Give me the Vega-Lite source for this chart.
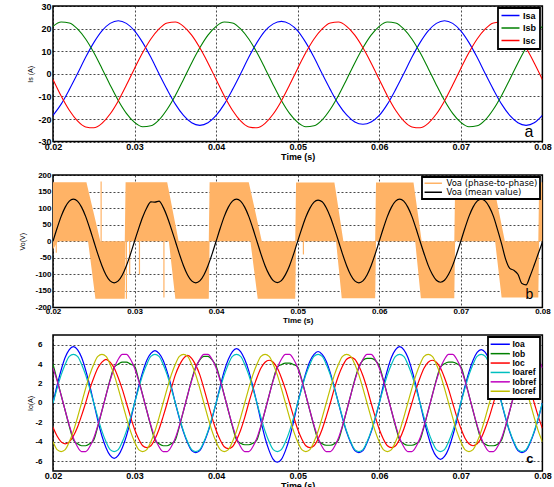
{
  "$schema": "https://vega.github.io/schema/vega-lite/v6.json",
  "background": "white",
  "padding": {"left": 18, "top": 1, "right": 0, "bottom": 0},
  "spacing": 8,
  "config": {
    "font": "Liberation Sans",
    "view": {"stroke": "black", "strokeWidth": 1.5},
    "locale": {"number": {"decimal": ".", "thousands": ",", "grouping": [3], "currency": ["$", ""], "minus": "-"}},
    "axis": {"grid": true, "gridColor": "black", "gridDash": [2, 2], "gridWidth": 0.8, "gridOpacity": 0.9, "domain": false, "ticks": false, "tickCount": 50, "labelFont": "Liberation Sans", "labelFontSize": 9, "labelFontWeight": "bold", "labelColor": "black", "labelFlush": false, "labelOverlap": false, "titleFont": "Liberation Sans", "titleColor": "black"},
    "axisX": {"labelPadding": 1, "titlePadding": 0.5, "titleFontSize": 9, "titleFontWeight": "bold"},
    "axisY": {"labelPadding": 2, "titleFontSize": 7, "titleFontWeight": "normal"},
    "legend": {"orient": "top-right", "offset": 2, "strokeColor": "black", "strokeWidth": 1.8, "fillColor": "white", "padding": 3, "labelFont": "Liberation Sans", "labelColor": "black"}
  },
  "resolve": {"scale": {"x": "independent", "y": "independent", "color": "independent"}, "legend": {"color": "independent"}},
  "vconcat": [
    {
      "width": 489.4,
      "height": 135.6,
      "layer": [
        {
          "data": {"values": [
            {"t":0.020,"Isa":-18.4,"Isb":21.0,"Isc":-2.5},
            {"t":0.021,"Isa":-13.4,"Isb":22.9,"Isc":-9.8},
            {"t":0.022,"Isa":-7.0,"Isb":22.5,"Isc":-16.1},
            {"t":0.023,"Isa":0,"Isb":19.9,"Isc":-20.8},
            {"t":0.024,"Isa":7.3,"Isb":15.4,"Isc":-23.5},
            {"t":0.025,"Isa":13.8,"Isb":9.4,"Isc":-23.9},
            {"t":0.026,"Isa":19.0,"Isb":2.4,"Isc":-21.9},
            {"t":0.027,"Isa":22.3,"Isb":-4.9,"Isc":-17.8},
            {"t":0.028,"Isa":23.5,"Isb":-11.8,"Isc":-12.0},
            {"t":0.029,"Isa":22.3,"Isb":-17.5,"Isc":-5.0},
            {"t":0.030,"Isa":19.0,"Isb":-21.5,"Isc":2.4},
            {"t":0.031,"Isa":13.8,"Isb":-23.4,"Isc":9.4},
            {"t":0.032,"Isa":7.3,"Isb":-23.0,"Isc":15.4},
            {"t":0.033,"Isa":0,"Isb":-20.4,"Isc":19.9},
            {"t":0.034,"Isa":-7.0,"Isb":-15.7,"Isc":22.5},
            {"t":0.035,"Isa":-13.4,"Isb":-9.6,"Isc":22.9},
            {"t":0.036,"Isa":-18.4,"Isb":-2.5,"Isc":21.0},
            {"t":0.037,"Isa":-21.7,"Isb":4.8,"Isc":17.1},
            {"t":0.038,"Isa":-22.8,"Isb":11.5,"Isc":11.5},
            {"t":0.039,"Isa":-21.7,"Isb":17.1,"Isc":4.8},
            {"t":0.040,"Isa":-18.4,"Isb":21.0,"Isc":-2.5},
            {"t":0.041,"Isa":-13.4,"Isb":22.9,"Isc":-9.8},
            {"t":0.042,"Isa":-7.0,"Isb":22.5,"Isc":-16.1},
            {"t":0.043,"Isa":0,"Isb":19.9,"Isc":-20.8},
            {"t":0.044,"Isa":7.3,"Isb":15.4,"Isc":-23.5},
            {"t":0.045,"Isa":13.8,"Isb":9.4,"Isc":-23.9},
            {"t":0.046,"Isa":19.0,"Isb":2.4,"Isc":-21.9},
            {"t":0.047,"Isa":22.1,"Isb":-4.9,"Isc":-17.8},
            {"t":0.048,"Isa":23.2,"Isb":-11.8,"Isc":-12.0},
            {"t":0.049,"Isa":22.1,"Isb":-17.5,"Isc":-5.0},
            {"t":0.050,"Isa":19.0,"Isb":-21.5,"Isc":2.4},
            {"t":0.051,"Isa":13.8,"Isb":-23.4,"Isc":9.4},
            {"t":0.052,"Isa":7.3,"Isb":-23.0,"Isc":15.4},
            {"t":0.053,"Isa":0,"Isb":-20.4,"Isc":19.9},
            {"t":0.054,"Isa":-7.0,"Isb":-15.7,"Isc":22.5},
            {"t":0.055,"Isa":-13.4,"Isb":-9.6,"Isc":22.9},
            {"t":0.056,"Isa":-18.2,"Isb":-2.5,"Isc":21.0},
            {"t":0.057,"Isa":-21.3,"Isb":4.8,"Isc":17.1},
            {"t":0.058,"Isa":-22.3,"Isb":11.5,"Isc":11.5},
            {"t":0.059,"Isa":-21.3,"Isb":17.1,"Isc":4.8},
            {"t":0.060,"Isa":-18.4,"Isb":21.0,"Isc":-2.5},
            {"t":0.061,"Isa":-13.4,"Isb":22.9,"Isc":-9.8},
            {"t":0.062,"Isa":-7.0,"Isb":22.5,"Isc":-16.1},
            {"t":0.063,"Isa":0,"Isb":19.9,"Isc":-20.8},
            {"t":0.064,"Isa":7.3,"Isb":15.4,"Isc":-23.5},
            {"t":0.065,"Isa":13.8,"Isb":9.4,"Isc":-23.9},
            {"t":0.066,"Isa":19.0,"Isb":2.4,"Isc":-21.9},
            {"t":0.067,"Isa":22.3,"Isb":-4.9,"Isc":-17.8},
            {"t":0.068,"Isa":23.5,"Isb":-11.8,"Isc":-12.0},
            {"t":0.069,"Isa":22.3,"Isb":-17.5,"Isc":-5.0},
            {"t":0.070,"Isa":19.0,"Isb":-21.5,"Isc":2.4},
            {"t":0.071,"Isa":13.8,"Isb":-23.4,"Isc":9.4},
            {"t":0.072,"Isa":7.3,"Isb":-23.0,"Isc":15.4},
            {"t":0.073,"Isa":0,"Isb":-20.4,"Isc":19.9},
            {"t":0.074,"Isa":-7.0,"Isb":-15.7,"Isc":22.5},
            {"t":0.075,"Isa":-13.4,"Isb":-9.6,"Isc":22.9},
            {"t":0.076,"Isa":-18.4,"Isb":-2.5,"Isc":21.0},
            {"t":0.077,"Isa":-21.7,"Isb":4.8,"Isc":17.1},
            {"t":0.078,"Isa":-22.8,"Isb":11.5,"Isc":11.5},
            {"t":0.079,"Isa":-21.7,"Isb":17.1,"Isc":4.8},
            {"t":0.080,"Isa":-18.4,"Isb":21.0,"Isc":-2.5}
          ]},
          "transform": [{"fold": ["Isa", "Isb", "Isc"], "as": ["series", "value"]}],
          "mark": {"type": "line", "strokeWidth": 1.1, "interpolate": "monotone", "clip": true},
          "encoding": {
            "x": {"field": "t", "type": "quantitative", "scale": {"domain": [0.02, 0.08], "nice": false, "zero": false}, "axis": {"values": [0.02, 0.03, 0.04, 0.05, 0.06, 0.07, 0.08], "format": ".2f", "title": "Time (s)", "labelOverlap": false, "tickCount": 50}},
            "y": {"field": "value", "type": "quantitative", "scale": {"domain": [-30, 30], "nice": false}, "axis": {"values": [-30, -20, -10, 0, 10, 20, 30], "format": "d", "title": "Is (A)", "titlePadding": 4, "labelOverlap": false, "tickCount": 50}},
            "color": {"field": "series", "type": "nominal", "scale": {"domain": ["Isa", "Isb", "Isc"], "range": ["#0000ff", "#008000", "#ff0000"]}, "legend": {"title": null, "symbolType": "M-3,0H3", "symbolSize": 36, "symbolOffset": 5, "labelOffset": 8, "symbolStrokeWidth": 1.5, "labelFontSize": 9, "labelFontWeight": "bold", "rowPadding": 2.5, "padding": 3}}
          }
        },
        {
          "data": {"values": [{"label": "a"}]},
          "mark": {"type": "text", "fontSize": 16, "align": "right", "baseline": "alphabetic", "dx": -9, "dy": -5, "color": "black"},
          "encoding": {"x": {"datum": 0.08}, "y": {"datum": -30}, "text": {"field": "label"}}
        }
      ]
    },
    {
      "width": 489.4,
      "height": 132.4,
      "layer": [
        {
          "data": {"values": [
            {"t":0.0200,"hi":178,"lo":-25},{"t":0.0206,"hi":178,"lo":0},{"t":0.0241,"hi":178,"lo":0},{"t":0.0243,"hi":157,"lo":0},{"t":0.0252,"hi":63,"lo":-174},{"t":0.0258,"hi":0,"lo":-174},{"t":0.0288,"hi":0,"lo":-174},
            {"t":0.0289,"hi":178,"lo":0},{"t":0.0340,"hi":178,"lo":0},{"t":0.0342,"hi":153,"lo":0},{"t":0.0350,"hi":51,"lo":-174},{"t":0.0354,"hi":0,"lo":-174},{"t":0.0391,"hi":0,"lo":-174},
            {"t":0.0392,"hi":178,"lo":0},{"t":0.0440,"hi":178,"lo":0},{"t":0.0442,"hi":156,"lo":0},{"t":0.0451,"hi":56,"lo":-174},{"t":0.0456,"hi":0,"lo":-174},{"t":0.0497,"hi":0,"lo":-174},
            {"t":0.0498,"hi":177,"lo":0},{"t":0.0545,"hi":177,"lo":0},{"t":0.0547,"hi":146,"lo":0},{"t":0.0554,"hi":32,"lo":-172},{"t":0.0556,"hi":0,"lo":-172},{"t":0.0595,"hi":0,"lo":-172},
            {"t":0.0596,"hi":177,"lo":0},{"t":0.0642,"hi":177,"lo":0},{"t":0.0644,"hi":142,"lo":0},{"t":0.0651,"hi":18,"lo":-172},{"t":0.0652,"hi":0,"lo":-172},{"t":0.0692,"hi":0,"lo":-172},
            {"t":0.0693,"hi":172,"lo":0},{"t":0.0740,"hi":172,"lo":0},{"t":0.0742,"hi":147,"lo":0},{"t":0.0750,"hi":49,"lo":-170},{"t":0.0754,"hi":0,"lo":-170},{"t":0.0795,"hi":0,"lo":-170},
            {"t":0.0796,"hi":178,"lo":0},{"t":0.0800,"hi":178,"lo":0}
          ]},
          "mark": {"type": "area", "color": "#ffb366", "interpolate": "linear", "clip": true},
          "encoding": {
            "x": {"field": "t", "type": "quantitative", "scale": {"domain": [0.02, 0.08], "nice": false, "zero": false}, "axis": {"values": [0.02, 0.03, 0.04, 0.05, 0.06, 0.07, 0.08], "format": ".2f", "title": "Time (s)", "labelOverlap": false, "tickCount": 50, "labelFontSize": 8, "titleFontSize": 8, "labelPadding": 0.5, "titlePadding": 0.5}},
            "y": {"field": "hi", "type": "quantitative", "scale": {"domain": [-200, 200], "nice": false}, "axis": {"values": [-200, -150, -100, -50, 0, 50, 100, 150, 200], "format": "d", "title": "Vo(V)", "titlePadding": 9, "labelFontSize": 8, "labelOverlap": false, "tickCount": 50}},
            "y2": {"field": "lo"}
          }
        },
        {
          "data": {"values": [
            {"t":0.0204,"s1":0,"s2":-35},{"t":0.0259,"s1":0,"s2":180},{"t":0.0290,"s1":0,"s2":-174},{"t":0.0294,"s1":0,"s2":-100},{"t":0.0306,"s1":0,"s2":-100},{"t":0.0336,"s1":0,"s2":-170},{"t":0.0507,"s1":0,"s2":-40}
          ]},
          "mark": {"type": "rule", "color": "#ffb366", "strokeWidth": 1.2},
          "encoding": {"x": {"field": "t", "type": "quantitative"}, "y": {"field": "s1", "type": "quantitative"}, "y2": {"field": "s2"}}
        },
        {
          "data": {"values": [
            {"t":0.0200,"v":0},{"t":0.0205,"v":39},{"t":0.0210,"v":75},{"t":0.0215,"v":103},{"t":0.0220,"v":121},{"t":0.0225,"v":127},{"t":0.0230,"v":121},{"t":0.0235,"v":103},{"t":0.0240,"v":75},{"t":0.0245,"v":39},
            {"t":0.0250,"v":0},{"t":0.0255,"v":-39},{"t":0.0260,"v":-74},{"t":0.0265,"v":-102},{"t":0.0270,"v":-120},{"t":0.0275,"v":-126},{"t":0.0280,"v":-120},{"t":0.0285,"v":-102},{"t":0.0290,"v":-74},{"t":0.0295,"v":-39},
            {"t":0.0300,"v":0},{"t":0.0305,"v":38},{"t":0.0310,"v":73},{"t":0.0315,"v":101},{"t":0.0320,"v":119},{"t":0.0325,"v":118},{"t":0.0330,"v":121},{"t":0.0335,"v":103},{"t":0.0340,"v":74},{"t":0.0345,"v":38},
            {"t":0.0350,"v":0},{"t":0.0355,"v":-39},{"t":0.0360,"v":-74},{"t":0.0365,"v":-102},{"t":0.0370,"v":-120},{"t":0.0375,"v":-126},{"t":0.0380,"v":-120},{"t":0.0385,"v":-102},{"t":0.0390,"v":-74},{"t":0.0395,"v":-39},
            {"t":0.0400,"v":0},{"t":0.0405,"v":39},{"t":0.0410,"v":75},{"t":0.0415,"v":103},{"t":0.0420,"v":121},{"t":0.0425,"v":127},{"t":0.0430,"v":121},{"t":0.0435,"v":103},{"t":0.0440,"v":75},{"t":0.0445,"v":39},
            {"t":0.0450,"v":0},{"t":0.0455,"v":-39},{"t":0.0460,"v":-74},{"t":0.0465,"v":-101},{"t":0.0470,"v":-119},{"t":0.0475,"v":-125},{"t":0.0480,"v":-119},{"t":0.0485,"v":-101},{"t":0.0490,"v":-74},{"t":0.0495,"v":-39},
            {"t":0.0500,"v":0},{"t":0.0505,"v":38},{"t":0.0510,"v":73},{"t":0.0515,"v":100},{"t":0.0520,"v":118},{"t":0.0525,"v":124},{"t":0.0530,"v":119},{"t":0.0535,"v":101},{"t":0.0540,"v":73},{"t":0.0545,"v":38},
            {"t":0.0550,"v":0},{"t":0.0555,"v":-39},{"t":0.0560,"v":-74},{"t":0.0565,"v":-102},{"t":0.0570,"v":-120},{"t":0.0575,"v":-126},{"t":0.0580,"v":-120},{"t":0.0585,"v":-102},{"t":0.0590,"v":-74},{"t":0.0595,"v":-39},
            {"t":0.0600,"v":0},{"t":0.0605,"v":39},{"t":0.0610,"v":75},{"t":0.0615,"v":103},{"t":0.0620,"v":121},{"t":0.0625,"v":127},{"t":0.0630,"v":121},{"t":0.0635,"v":103},{"t":0.0640,"v":75},{"t":0.0645,"v":39},
            {"t":0.0650,"v":0},{"t":0.0655,"v":-38},{"t":0.0660,"v":-73},{"t":0.0665,"v":-100},{"t":0.0670,"v":-118},{"t":0.0675,"v":-124},{"t":0.0680,"v":-118},{"t":0.0685,"v":-100},{"t":0.0690,"v":-73},{"t":0.0695,"v":-38},
            {"t":0.0700,"v":0},{"t":0.0705,"v":39},{"t":0.0710,"v":75},{"t":0.0715,"v":103},{"t":0.0720,"v":121},{"t":0.0725,"v":127},{"t":0.0730,"v":121},{"t":0.0735,"v":103},{"t":0.0740,"v":75},{"t":0.0745,"v":35},
            {"t":0.0750,"v":-8},{"t":0.0755,"v":-55},{"t":0.0760,"v":-82},{"t":0.0765,"v":-88},{"t":0.0770,"v":-100},{"t":0.0775,"v":-128},{"t":0.0780,"v":-132},{"t":0.0785,"v":-105},{"t":0.0790,"v":-72},{"t":0.0795,"v":-37},
            {"t":0.0800,"v":-3}
          ]},
          "mark": {"type": "line", "strokeWidth": 1.2, "interpolate": "monotone", "clip": true},
          "encoding": {
            "x": {"field": "t", "type": "quantitative"},
            "y": {"field": "v", "type": "quantitative"},
            "color": {"datum": "Voa (mean value)", "type": "nominal", "scale": {"domain": ["Voa (phase-to-phase)", "Voa (mean value)"], "range": ["#ffb366", "#000000"]}, "legend": {"title": null, "symbolType": "M-2.9,0H2.9", "symbolSize": 36, "symbolOffset": 5, "labelOffset": 9, "symbolStrokeWidth": 1.5, "labelFont": "DejaVu Sans", "labelFontSize": 8.5, "labelFontWeight": "normal", "rowPadding": -1, "padding": 2}}
          }
        },
        {
          "data": {"values": [{"label": "b"}]},
          "mark": {"type": "text", "fontSize": 14, "align": "right", "baseline": "alphabetic", "dx": -9, "dy": -8, "color": "black"},
          "encoding": {"x": {"datum": 0.08}, "y": {"datum": -200}, "text": {"field": "label"}}
        }
      ]
    },
    {
      "width": 489.4,
      "height": 136,
      "layer": [
        {
          "data": {"values": [
            {"t":0.0200,"Ioa":0,"Iob":4.0,"Ioc":-2.5,"Ioaref":0,"Iobref":3.6,"Iocref":-4.0},
            {"t":0.0205,"Ioa":1.8,"Iob":2.4,"Ioc":-3.4,"Ioaref":1.5,"Iobref":2.3,"Iocref":-4.8},
            {"t":0.0210,"Ioa":3.4,"Iob":0.8,"Ioc":-4.0,"Ioaref":2.9,"Iobref":0.8,"Iocref":-5.0},
            {"t":0.0215,"Ioa":4.7,"Iob":-0.8,"Ioc":-4.2,"Ioaref":4.0,"Iobref":-0.8,"Iocref":-4.8},
            {"t":0.0220,"Ioa":5.5,"Iob":-2.4,"Ioc":-4.0,"Ioaref":4.8,"Iobref":-2.3,"Iocref":-4.0},
            {"t":0.0225,"Ioa":5.8,"Iob":-3.8,"Ioc":-3.4,"Ioaref":5.0,"Iobref":-3.6,"Iocref":-2.9},
            {"t":0.0230,"Ioa":5.5,"Iob":-4.2,"Ioc":-2.5,"Ioaref":4.8,"Iobref":-4.5,"Iocref":-1.5},
            {"t":0.0235,"Ioa":4.7,"Iob":-4.4,"Ioc":-1.3,"Ioaref":4.0,"Iobref":-5.0,"Iocref":0},
            {"t":0.0240,"Ioa":3.4,"Iob":-4.4,"Ioc":0,"Ioaref":2.9,"Iobref":-5.0,"Iocref":1.5},
            {"t":0.0245,"Ioa":1.8,"Iob":-4.2,"Ioc":1.4,"Ioaref":1.5,"Iobref":-4.5,"Iocref":2.9},
            {"t":0.0250,"Ioa":0,"Iob":-3.8,"Ioc":2.6,"Ioaref":0,"Iobref":-3.6,"Iocref":4.0},
            {"t":0.0255,"Ioa":-1.8,"Iob":-2.4,"Ioc":3.6,"Ioaref":-1.5,"Iobref":-2.3,"Iocref":4.8},
            {"t":0.0260,"Ioa":-3.4,"Iob":-0.8,"Ioc":4.2,"Ioaref":-2.9,"Iobref":-0.8,"Iocref":5.0},
            {"t":0.0265,"Ioa":-4.6,"Iob":0.8,"Ioc":4.5,"Ioaref":-4.0,"Iobref":0.8,"Iocref":4.8},
            {"t":0.0270,"Ioa":-5.4,"Iob":2.4,"Ioc":4.2,"Ioaref":-4.8,"Iobref":2.3,"Iocref":4.0},
            {"t":0.0275,"Ioa":-5.7,"Iob":3.7,"Ioc":3.6,"Ioaref":-5.0,"Iobref":3.6,"Iocref":2.9},
            {"t":0.0280,"Ioa":-5.4,"Iob":4.0,"Ioc":2.6,"Ioaref":-4.8,"Iobref":4.5,"Iocref":1.5},
            {"t":0.0285,"Ioa":-4.6,"Iob":4.2,"Ioc":1.4,"Ioaref":-4.0,"Iobref":5.0,"Iocref":0},
            {"t":0.0290,"Ioa":-3.4,"Iob":4.2,"Ioc":0,"Ioaref":-2.9,"Iobref":5.0,"Iocref":-1.5},
            {"t":0.0295,"Ioa":-1.8,"Iob":4.0,"Ioc":-1.4,"Ioaref":-1.5,"Iobref":4.5,"Iocref":-2.9},
            {"t":0.0300,"Ioa":0,"Iob":3.8,"Ioc":-2.7,"Ioaref":0,"Iobref":3.6,"Iocref":-4.0},
            {"t":0.0305,"Ioa":1.7,"Iob":2.4,"Ioc":-3.7,"Ioaref":1.5,"Iobref":2.3,"Iocref":-4.8},
            {"t":0.0310,"Ioa":3.2,"Iob":0.8,"Ioc":-4.4,"Ioaref":2.9,"Iobref":0.8,"Iocref":-5.0},
            {"t":0.0315,"Ioa":4.4,"Iob":-0.8,"Ioc":-4.6,"Ioaref":4.0,"Iobref":-0.8,"Iocref":-4.8},
            {"t":0.0320,"Ioa":5.1,"Iob":-2.4,"Ioc":-4.4,"Ioaref":4.8,"Iobref":-2.3,"Iocref":-4.0},
            {"t":0.0325,"Ioa":5.4,"Iob":-3.8,"Ioc":-3.7,"Ioaref":5.0,"Iobref":-3.6,"Iocref":-2.9},
            {"t":0.0330,"Ioa":5.1,"Iob":-4.2,"Ioc":-2.7,"Ioaref":4.8,"Iobref":-4.5,"Iocref":-1.5},
            {"t":0.0335,"Ioa":4.4,"Iob":-4.4,"Ioc":-1.4,"Ioaref":4.0,"Iobref":-5.0,"Iocref":0},
            {"t":0.0340,"Ioa":3.2,"Iob":-4.4,"Ioc":0,"Ioaref":2.9,"Iobref":-5.0,"Iocref":1.5},
            {"t":0.0345,"Ioa":1.7,"Iob":-4.2,"Ioc":1.5,"Ioaref":1.5,"Iobref":-4.5,"Iocref":2.9},
            {"t":0.0350,"Ioa":0,"Iob":-3.8,"Ioc":2.9,"Ioaref":0,"Iobref":-3.6,"Iocref":4.0},
            {"t":0.0355,"Ioa":-1.6,"Iob":-2.4,"Ioc":3.9,"Ioaref":-1.5,"Iobref":-2.3,"Iocref":4.8},
            {"t":0.0360,"Ioa":-3.0,"Iob":-0.8,"Ioc":4.6,"Ioaref":-2.9,"Iobref":-0.8,"Iocref":5.0},
            {"t":0.0365,"Ioa":-4.1,"Iob":0.8,"Ioc":4.9,"Ioaref":-4.0,"Iobref":0.8,"Iocref":4.8},
            {"t":0.0370,"Ioa":-4.9,"Iob":2.4,"Ioc":4.6,"Ioaref":-4.8,"Iobref":2.3,"Iocref":4.0},
            {"t":0.0375,"Ioa":-5.1,"Iob":3.7,"Ioc":3.9,"Ioaref":-5.0,"Iobref":3.6,"Iocref":2.9},
            {"t":0.0380,"Ioa":-4.9,"Iob":4.45,"Ioc":2.9,"Ioaref":-4.8,"Iobref":4.5,"Iocref":1.5},
            {"t":0.0385,"Ioa":-4.1,"Iob":4.8,"Ioc":1.5,"Ioaref":-4.0,"Iobref":5.0,"Iocref":0},
            {"t":0.0390,"Ioa":-3.0,"Iob":4.8,"Ioc":0,"Ioaref":-2.9,"Iobref":5.0,"Iocref":-1.5},
            {"t":0.0395,"Ioa":-1.6,"Iob":4.45,"Ioc":-1.5,"Ioaref":-1.5,"Iobref":4.5,"Iocref":-2.9},
            {"t":0.0400,"Ioa":0,"Iob":3.8,"Ioc":-2.8,"Ioaref":0,"Iobref":3.6,"Iocref":-4.0},
            {"t":0.0405,"Ioa":1.7,"Iob":2.4,"Ioc":-3.8,"Ioaref":1.5,"Iobref":2.3,"Iocref":-4.8},
            {"t":0.0410,"Ioa":3.3,"Iob":0.8,"Ioc":-4.5,"Ioaref":2.9,"Iobref":0.8,"Iocref":-5.0},
            {"t":0.0415,"Ioa":4.5,"Iob":-0.8,"Ioc":-4.7,"Ioaref":4.0,"Iobref":-0.8,"Iocref":-4.8},
            {"t":0.0420,"Ioa":5.3,"Iob":-2.4,"Ioc":-4.5,"Ioaref":4.8,"Iobref":-2.3,"Iocref":-4.0},
            {"t":0.0425,"Ioa":5.6,"Iob":-3.8,"Ioc":-3.8,"Ioaref":5.0,"Iobref":-3.6,"Iocref":-2.9},
            {"t":0.0430,"Ioa":5.3,"Iob":-4.15,"Ioc":-2.8,"Ioaref":4.8,"Iobref":-4.5,"Iocref":-1.5},
            {"t":0.0435,"Ioa":4.5,"Iob":-4.3,"Ioc":-1.5,"Ioaref":4.0,"Iobref":-5.0,"Iocref":0},
            {"t":0.0440,"Ioa":3.3,"Iob":-4.3,"Ioc":0,"Ioaref":2.9,"Iobref":-5.0,"Iocref":1.5},
            {"t":0.0445,"Ioa":1.7,"Iob":-4.15,"Ioc":1.4,"Ioaref":1.5,"Iobref":-4.5,"Iocref":2.9},
            {"t":0.0450,"Ioa":0,"Iob":-3.8,"Ioc":2.6,"Ioaref":0,"Iobref":-3.6,"Iocref":4.0},
            {"t":0.0455,"Ioa":-1.9,"Iob":-2.4,"Ioc":3.6,"Ioaref":-1.5,"Iobref":-2.3,"Iocref":4.8},
            {"t":0.0460,"Ioa":-3.6,"Iob":-0.8,"Ioc":4.2,"Ioaref":-2.9,"Iobref":-0.8,"Iocref":5.0},
            {"t":0.0465,"Ioa":-4.9,"Iob":0.8,"Ioc":4.4,"Ioaref":-4.0,"Iobref":0.8,"Iocref":4.8},
            {"t":0.0470,"Ioa":-5.8,"Iob":2.4,"Ioc":4.2,"Ioaref":-4.8,"Iobref":2.3,"Iocref":4.0},
            {"t":0.0475,"Ioa":-6.1,"Iob":3.7,"Ioc":3.6,"Ioaref":-5.0,"Iobref":3.6,"Iocref":2.9},
            {"t":0.0480,"Ioa":-5.8,"Iob":3.95,"Ioc":2.6,"Ioaref":-4.8,"Iobref":4.5,"Iocref":1.5},
            {"t":0.0485,"Ioa":-4.9,"Iob":4.1,"Ioc":1.4,"Ioaref":-4.0,"Iobref":5.0,"Iocref":0},
            {"t":0.0490,"Ioa":-3.6,"Iob":4.1,"Ioc":0,"Ioaref":-2.9,"Iobref":5.0,"Iocref":-1.5},
            {"t":0.0495,"Ioa":-1.9,"Iob":3.95,"Ioc":-1.4,"Ioaref":-1.5,"Iobref":4.5,"Iocref":-2.9},
            {"t":0.0500,"Ioa":0,"Iob":3.7,"Ioc":-2.7,"Ioaref":0,"Iobref":3.6,"Iocref":-4.0},
            {"t":0.0505,"Ioa":1.6,"Iob":2.4,"Ioc":-3.7,"Ioaref":1.5,"Iobref":2.3,"Iocref":-4.8},
            {"t":0.0510,"Ioa":3.1,"Iob":0.8,"Ioc":-4.4,"Ioaref":2.9,"Iobref":0.8,"Iocref":-5.0},
            {"t":0.0515,"Ioa":4.3,"Iob":-0.8,"Ioc":-4.6,"Ioaref":4.0,"Iobref":-0.8,"Iocref":-4.8},
            {"t":0.0520,"Ioa":5.0,"Iob":-2.4,"Ioc":-4.4,"Ioaref":4.8,"Iobref":-2.3,"Iocref":-4.0},
            {"t":0.0525,"Ioa":5.3,"Iob":-3.8,"Ioc":-3.7,"Ioaref":5.0,"Iobref":-3.6,"Iocref":-2.9},
            {"t":0.0530,"Ioa":5.0,"Iob":-4.2,"Ioc":-2.7,"Ioaref":4.8,"Iobref":-4.5,"Iocref":-1.5},
            {"t":0.0535,"Ioa":4.3,"Iob":-4.35,"Ioc":-1.4,"Ioaref":4.0,"Iobref":-5.0,"Iocref":0},
            {"t":0.0540,"Ioa":3.1,"Iob":-4.35,"Ioc":0,"Ioaref":2.9,"Iobref":-5.0,"Iocref":1.5},
            {"t":0.0545,"Ioa":1.6,"Iob":-4.2,"Ioc":1.5,"Ioaref":1.5,"Iobref":-4.5,"Iocref":2.9},
            {"t":0.0550,"Ioa":0,"Iob":-3.8,"Ioc":2.8,"Ioaref":0,"Iobref":-3.6,"Iocref":4.0},
            {"t":0.0555,"Ioa":-1.6,"Iob":-2.4,"Ioc":3.8,"Ioaref":-1.5,"Iobref":-2.3,"Iocref":4.8},
            {"t":0.0560,"Ioa":-3.0,"Iob":-0.8,"Ioc":4.5,"Ioaref":-2.9,"Iobref":-0.8,"Iocref":5.0},
            {"t":0.0565,"Ioa":-4.1,"Iob":0.8,"Ioc":4.7,"Ioaref":-4.0,"Iobref":0.8,"Iocref":4.8},
            {"t":0.0570,"Ioa":-4.9,"Iob":2.4,"Ioc":4.5,"Ioaref":-4.8,"Iobref":2.3,"Iocref":4.0},
            {"t":0.0575,"Ioa":-5.1,"Iob":3.7,"Ioc":3.8,"Ioaref":-5.0,"Iobref":3.6,"Iocref":2.9},
            {"t":0.0580,"Ioa":-4.9,"Iob":4.4,"Ioc":2.8,"Ioaref":-4.8,"Iobref":4.5,"Iocref":1.5},
            {"t":0.0585,"Ioa":-4.1,"Iob":4.6,"Ioc":1.5,"Ioaref":-4.0,"Iobref":5.0,"Iocref":0},
            {"t":0.0590,"Ioa":-3.0,"Iob":4.6,"Ioc":0,"Ioaref":-2.9,"Iobref":5.0,"Iocref":-1.5},
            {"t":0.0595,"Ioa":-1.6,"Iob":4.4,"Ioc":-1.4,"Ioaref":-1.5,"Iobref":4.5,"Iocref":-2.9},
            {"t":0.0600,"Ioa":0,"Iob":3.8,"Ioc":-2.7,"Ioaref":0,"Iobref":3.6,"Iocref":-4.0},
            {"t":0.0605,"Ioa":1.8,"Iob":2.4,"Ioc":-3.7,"Ioaref":1.5,"Iobref":2.3,"Iocref":-4.8},
            {"t":0.0610,"Ioa":3.4,"Iob":0.8,"Ioc":-4.4,"Ioaref":2.9,"Iobref":0.8,"Iocref":-5.0},
            {"t":0.0615,"Ioa":4.7,"Iob":-0.8,"Ioc":-4.6,"Ioaref":4.0,"Iobref":-0.8,"Iocref":-4.8},
            {"t":0.0620,"Ioa":5.5,"Iob":-2.4,"Ioc":-4.4,"Ioaref":4.8,"Iobref":-2.3,"Iocref":-4.0},
            {"t":0.0625,"Ioa":5.8,"Iob":-3.8,"Ioc":-3.7,"Ioaref":5.0,"Iobref":-3.6,"Iocref":-2.9},
            {"t":0.0630,"Ioa":5.5,"Iob":-4.2,"Ioc":-2.7,"Ioaref":4.8,"Iobref":-4.5,"Iocref":-1.5},
            {"t":0.0635,"Ioa":4.7,"Iob":-4.35,"Ioc":-1.4,"Ioaref":4.0,"Iobref":-5.0,"Iocref":0},
            {"t":0.0640,"Ioa":3.4,"Iob":-4.35,"Ioc":0,"Ioaref":2.9,"Iobref":-5.0,"Iocref":1.5},
            {"t":0.0645,"Ioa":1.8,"Iob":-4.2,"Ioc":1.4,"Ioaref":1.5,"Iobref":-4.5,"Iocref":2.9},
            {"t":0.0650,"Ioa":0,"Iob":-3.8,"Ioc":2.6,"Ioaref":0,"Iobref":-3.6,"Iocref":4.0},
            {"t":0.0655,"Ioa":-1.8,"Iob":-2.4,"Ioc":3.6,"Ioaref":-1.5,"Iobref":-2.3,"Iocref":4.8},
            {"t":0.0660,"Ioa":-3.4,"Iob":-0.8,"Ioc":4.2,"Ioaref":-2.9,"Iobref":-0.8,"Iocref":5.0},
            {"t":0.0665,"Ioa":-4.7,"Iob":0.8,"Ioc":4.4,"Ioaref":-4.0,"Iobref":0.8,"Iocref":4.8},
            {"t":0.0670,"Ioa":-5.5,"Iob":2.4,"Ioc":4.2,"Ioaref":-4.8,"Iobref":2.3,"Iocref":4.0},
            {"t":0.0675,"Ioa":-5.8,"Iob":3.7,"Ioc":3.6,"Ioaref":-5.0,"Iobref":3.6,"Iocref":2.9},
            {"t":0.0680,"Ioa":-5.5,"Iob":4.05,"Ioc":2.6,"Ioaref":-4.8,"Iobref":4.5,"Iocref":1.5},
            {"t":0.0685,"Ioa":-4.7,"Iob":4.2,"Ioc":1.4,"Ioaref":-4.0,"Iobref":5.0,"Iocref":0},
            {"t":0.0690,"Ioa":-3.4,"Iob":4.2,"Ioc":0,"Ioaref":-2.9,"Iobref":5.0,"Iocref":-1.5},
            {"t":0.0695,"Ioa":-1.8,"Iob":4.05,"Ioc":-1.4,"Ioaref":-1.5,"Iobref":4.5,"Iocref":-2.9},
            {"t":0.0700,"Ioa":0,"Iob":3.75,"Ioc":-2.6,"Ioaref":0,"Iobref":3.6,"Iocref":-4.0},
            {"t":0.0705,"Ioa":1.7,"Iob":2.4,"Ioc":-3.6,"Ioaref":1.5,"Iobref":2.3,"Iocref":-4.8},
            {"t":0.0710,"Ioa":3.2,"Iob":0.8,"Ioc":-4.2,"Ioaref":2.9,"Iobref":0.8,"Iocref":-5.0},
            {"t":0.0715,"Ioa":4.4,"Iob":-0.8,"Ioc":-4.4,"Ioaref":4.0,"Iobref":-0.8,"Iocref":-4.8},
            {"t":0.0720,"Ioa":5.2,"Iob":-2.4,"Ioc":-4.2,"Ioaref":4.8,"Iobref":-2.3,"Iocref":-4.0},
            {"t":0.0725,"Ioa":5.5,"Iob":-3.8,"Ioc":-3.6,"Ioaref":5.0,"Iobref":-3.6,"Iocref":-2.9},
            {"t":0.0730,"Ioa":5.2,"Iob":-4.25,"Ioc":-2.6,"Ioaref":4.8,"Iobref":-4.5,"Iocref":-1.5},
            {"t":0.0735,"Ioa":4.4,"Iob":-4.4,"Ioc":-1.4,"Ioaref":4.0,"Iobref":-5.0,"Iocref":0},
            {"t":0.0740,"Ioa":3.2,"Iob":-4.4,"Ioc":0,"Ioaref":2.9,"Iobref":-5.0,"Iocref":1.5},
            {"t":0.0745,"Ioa":1.7,"Iob":-4.25,"Ioc":1.4,"Ioaref":1.5,"Iobref":-4.5,"Iocref":2.9},
            {"t":0.0750,"Ioa":0,"Iob":-3.8,"Ioc":2.6,"Ioaref":0,"Iobref":-3.6,"Iocref":4.0},
            {"t":0.0755,"Ioa":-1.6,"Iob":-2.4,"Ioc":3.6,"Ioaref":-1.5,"Iobref":-2.3,"Iocref":4.8},
            {"t":0.0760,"Ioa":-3.0,"Iob":-0.8,"Ioc":4.3,"Ioaref":-2.9,"Iobref":-0.8,"Iocref":5.0},
            {"t":0.0765,"Ioa":-4.1,"Iob":0.8,"Ioc":4.5,"Ioaref":-4.0,"Iobref":0.8,"Iocref":4.8},
            {"t":0.0770,"Ioa":-4.9,"Iob":2.4,"Ioc":4.3,"Ioaref":-4.8,"Iobref":2.3,"Iocref":4.0},
            {"t":0.0775,"Ioa":-5.1,"Iob":3.7,"Ioc":3.6,"Ioaref":-5.0,"Iobref":3.6,"Iocref":2.9},
            {"t":0.0780,"Ioa":-4.9,"Iob":4.05,"Ioc":2.6,"Ioaref":-4.8,"Iobref":4.5,"Iocref":1.5},
            {"t":0.0785,"Ioa":-4.1,"Iob":4.2,"Ioc":1.4,"Ioaref":-4.0,"Iobref":5.0,"Iocref":0},
            {"t":0.0790,"Ioa":-3.0,"Iob":4.2,"Ioc":0,"Ioaref":-2.9,"Iobref":5.0,"Iocref":-1.5},
            {"t":0.0795,"Ioa":-1.6,"Iob":4.05,"Ioc":-1.4,"Ioaref":-1.5,"Iobref":4.5,"Iocref":-2.9},
            {"t":0.0800,"Ioa":0,"Iob":3.75,"Ioc":-2.6,"Ioaref":0,"Iobref":3.6,"Iocref":-4.0}
          ]},
          "transform": [{"fold": ["Ioa", "Iob", "Ioc", "Ioaref", "Iobref", "Iocref"], "as": ["series", "value"]}],
          "mark": {"type": "line", "strokeWidth": 1.2, "interpolate": "monotone", "clip": true},
          "encoding": {
            "x": {"field": "t", "type": "quantitative", "scale": {"domain": [0.02, 0.08], "nice": false, "zero": false}, "axis": {"values": [0.02, 0.03, 0.04, 0.05, 0.06, 0.07, 0.08], "format": ".2f", "title": "Time (s)", "labelOverlap": false, "tickCount": 50}},
            "y": {"field": "value", "type": "quantitative", "scale": {"domain": [-7, 7], "nice": false}, "axis": {"values": [-6, -4, -2, 0, 2, 4, 6], "format": "d", "title": "Io(A)", "titlePadding": 1, "labelPadding": 11, "labelFontSize": 8, "labelOverlap": false, "tickCount": 50}},
            "color": {"field": "series", "type": "nominal", "scale": {"domain": ["Ioa", "Iob", "Ioc", "Ioaref", "Iobref", "Iocref"], "range": ["#0000ff", "#008000", "#ff0000", "#00bfbf", "#bf00bf", "#bfbf00"]}, "legend": {"title": null, "symbolType": "M-3.2,0H3.2", "symbolSize": 36, "symbolOffset": 5, "labelOffset": 8, "symbolStrokeWidth": 1.5, "labelFontSize": 8.5, "labelFontWeight": "bold", "rowPadding": 0.4, "padding": 3}}
          }
        },
        {
          "data": {"values": [{"label": "c"}]},
          "mark": {"type": "text", "fontSize": 13, "fontWeight": "bold", "align": "right", "baseline": "alphabetic", "dx": -9, "dy": -8, "color": "black"},
          "encoding": {"x": {"datum": 0.08}, "y": {"datum": -7}, "text": {"field": "label"}}
        }
      ]
    }
  ]
}
